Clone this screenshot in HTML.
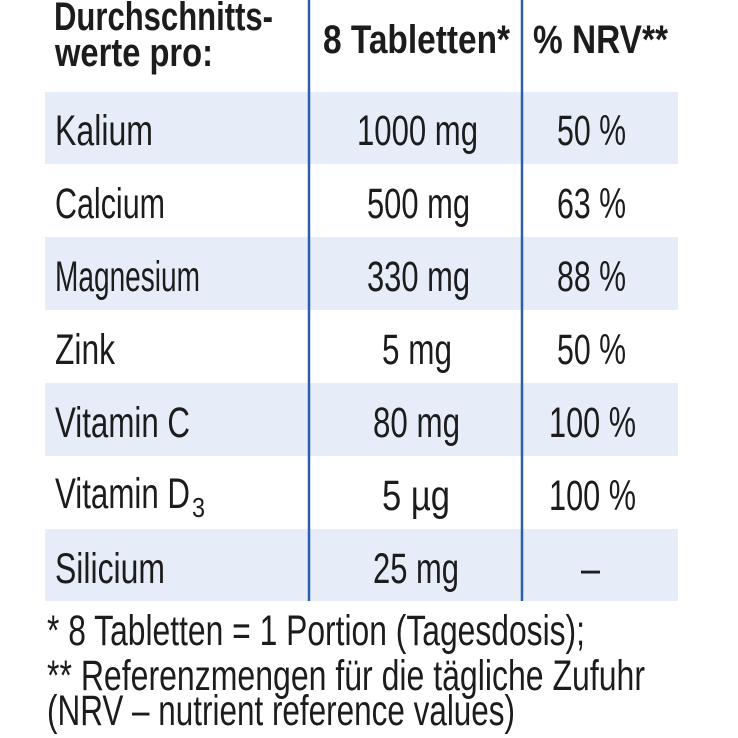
<!DOCTYPE html>
<html><head><meta charset="utf-8"><style>html,body{margin:0;padding:0;background:#fff}svg{display:block}</style></head>
<body>
<svg width="738" height="738" viewBox="0 0 738 738" xmlns="http://www.w3.org/2000/svg" font-family="'Liberation Sans Narrow','Liberation Sans',sans-serif" fill="#1c1c1c">
<rect x="45" y="92" width="633" height="72" fill="#e6edf8"/>
<rect x="45" y="237" width="633" height="73" fill="#e6edf8"/>
<rect x="45" y="383" width="633" height="73" fill="#e6edf8"/>
<rect x="45" y="529" width="633" height="72" fill="#e6edf8"/>
<line x1="309" y1="0" x2="309" y2="601" stroke="#2c5fa8" stroke-width="2.5"/>
<line x1="522" y1="0" x2="522" y2="601" stroke="#2c5fa8" stroke-width="2.5"/>
<g font-weight="bold" font-size="40">
<text x="54" y="30" textLength="219" lengthAdjust="spacingAndGlyphs">Durchschnitts-</text>
<text x="55" y="66" textLength="158" lengthAdjust="spacingAndGlyphs">werte pro:</text>
<text x="323" y="53" textLength="187" lengthAdjust="spacingAndGlyphs">8 Tabletten*</text>
<text x="533" y="53" textLength="135" lengthAdjust="spacingAndGlyphs">% NRV**</text>
</g>
<g font-size="43">
<text x="55" y="145" textLength="98" lengthAdjust="spacingAndGlyphs">Kalium</text>
<text x="357" y="145" textLength="121" lengthAdjust="spacingAndGlyphs">1000 mg</text>
<text x="557" y="145" textLength="69" lengthAdjust="spacingAndGlyphs">50 %</text>
<text x="55" y="218" textLength="110" lengthAdjust="spacingAndGlyphs">Calcium</text>
<text x="367" y="218" textLength="103" lengthAdjust="spacingAndGlyphs">500 mg</text>
<text x="557" y="218" textLength="69" lengthAdjust="spacingAndGlyphs">63 %</text>
<text x="55" y="291" textLength="145" lengthAdjust="spacingAndGlyphs">Magnesium</text>
<text x="367" y="291" textLength="103" lengthAdjust="spacingAndGlyphs">330 mg</text>
<text x="557" y="291" textLength="69" lengthAdjust="spacingAndGlyphs">88 %</text>
<text x="55" y="364" textLength="60" lengthAdjust="spacingAndGlyphs">Zink</text>
<text x="382" y="364" textLength="70" lengthAdjust="spacingAndGlyphs">5 mg</text>
<text x="557" y="364" textLength="69" lengthAdjust="spacingAndGlyphs">50 %</text>
<text x="55" y="437" textLength="135" lengthAdjust="spacingAndGlyphs">Vitamin C</text>
<text x="373" y="437" textLength="87" lengthAdjust="spacingAndGlyphs">80 mg</text>
<text x="549" y="437" textLength="87" lengthAdjust="spacingAndGlyphs">100 %</text>
<text x="55" y="508" textLength="135" lengthAdjust="spacingAndGlyphs">Vitamin D</text>
<text x="192" y="517" font-size="28" textLength="13" lengthAdjust="spacingAndGlyphs">3</text>
<text x="382" y="510" textLength="68" lengthAdjust="spacingAndGlyphs">5 µg</text>
<text x="549" y="510" textLength="87" lengthAdjust="spacingAndGlyphs">100 %</text>
<text x="55" y="583" textLength="110" lengthAdjust="spacingAndGlyphs">Silicium</text>
<text x="373" y="583" textLength="86" lengthAdjust="spacingAndGlyphs">25 mg</text>
<text x="581" y="583" textLength="19" lengthAdjust="spacingAndGlyphs">–</text>
<text x="47" y="645" textLength="538" lengthAdjust="spacingAndGlyphs">* 8 Tabletten = 1 Portion (Tagesdosis);</text>
<text x="47" y="690" textLength="598" lengthAdjust="spacingAndGlyphs">** Referenzmengen für die tägliche Zufuhr</text>
<text x="47" y="725" textLength="468" lengthAdjust="spacingAndGlyphs">(NRV – nutrient reference values)</text>
</g>
</svg>
</body></html>
